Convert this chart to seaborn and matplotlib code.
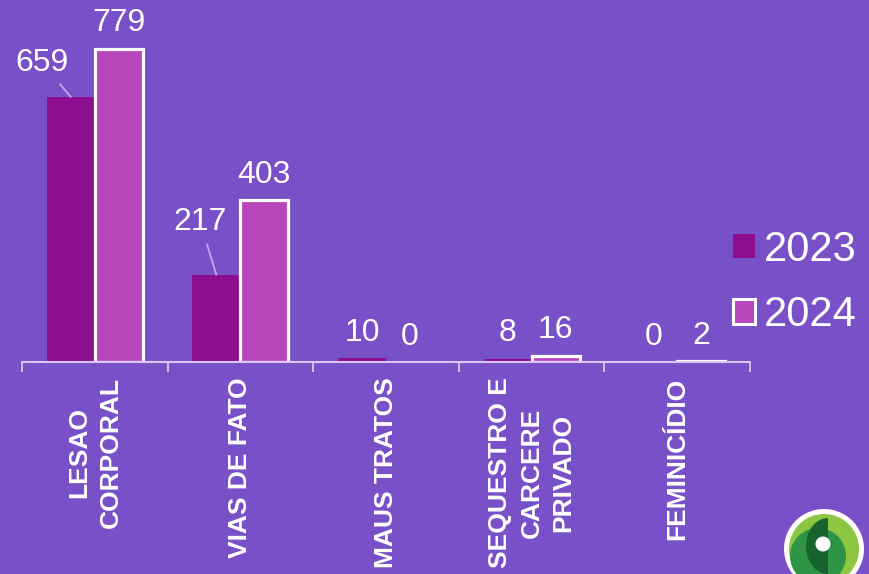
import matplotlib
matplotlib.use("Agg")
import matplotlib.pyplot as plt
from matplotlib.patches import Patch, Circle, Ellipse, Rectangle
from matplotlib.ticker import FixedLocator
import seaborn as sns
import pandas as pd

# Data
categories = ["LESAO\nCORPORAL", "VIAS DE FATO", "MAUS TRATOS",
              "SEQUESTRO E\nCARCERE\nPRIVADO", "FEMINICÍDIO"]
years = ["2023", "2024"]
values_2023 = [659, 217, 10, 8, 0]
values_2024 = [779, 403, 0, 16, 2]

# Colours
BG = "#7850C8"
C23 = "#8B0F8E"
C24 = "#B845BA"
AXIS = "#D9C6F2"
LEADER = "#C9A6EC"

df = pd.DataFrame({
    "categoria": categories * 2,
    "ano": [years[0]] * len(categories) + [years[1]] * len(categories),
    "valor": values_2023 + values_2024,
})

sns.set_theme(style="white")
plt.rcParams["font.family"] = ["Liberation Sans", "DejaVu Sans"]

W, H = 869, 574
fig = plt.figure(figsize=(W / 100, H / 100), dpi=100, facecolor=BG)
ax = fig.add_axes([22 / W, (H - 362) / H, (750 - 22) / W, 362 / H])
ax.set_facecolor(BG)

sns.barplot(data=df, x="categoria", y="valor", hue="ano", order=categories,
            hue_order=years, palette=[C23, C24], width=0.66, gap=0,
            saturation=1, legend=False, ax=ax)

ax.set_xlim(-0.5, len(categories) - 0.5)
ax.set_ylim(0, 900)
ax.set_xlabel("")
ax.set_ylabel("")
ax.set_yticks([])
for s in ("left", "top", "right"):
    ax.spines[s].set_visible(False)
ax.spines["bottom"].set_color(AXIS)
ax.spines["bottom"].set_linewidth(1.5)

# 2024 bars carry a white outline (none when the value is zero)
for bar, v in zip(ax.containers[1], values_2024):
    bar.set_edgecolor("white")
    bar.set_linewidth(2.3 if v > 0 else 0)
for bar in ax.containers[0]:
    bar.set_linewidth(0)

# Category boundary ticks
ax.xaxis.set_minor_locator(FixedLocator([i - 0.5 for i in range(len(categories) + 1)]))
ax.tick_params(axis="x", which="minor", bottom=True, length=7, width=1.3,
               color=AXIS, direction="out")
ax.tick_params(axis="x", which="major", bottom=True, length=0, pad=11)
ax.set_xticks(range(len(categories)))
ax.set_xticklabels(categories, rotation=90, fontsize=19, fontweight="bold",
                   color="white", ha="center", va="top",
                   multialignment="center", linespacing=1.4)

# Value labels
leader_pos = {0: (-0.363, 744), 1: (0.7225, 348)}
for i, (cont, vals) in enumerate(zip(ax.containers, [values_2023, values_2024])):
    for j, (bar, v) in enumerate(zip(cont, vals)):
        xc = bar.get_x() + bar.get_width() / 2
        if i == 0 and j in leader_pos:
            ax.annotate(f"{v}", xy=(xc, v), xytext=leader_pos[j],
                        textcoords="data", ha="center", va="center",
                        fontsize=23, color="white",
                        arrowprops=dict(arrowstyle="-", color=LEADER, lw=1.3,
                                        shrinkA=3, shrinkB=0))
        else:
            ax.annotate(f"{v}", xy=(xc, v), xytext=(0, 12.5),
                        textcoords="offset points", ha="center",
                        va="baseline", fontsize=23, color="white")

# Legend
handles = [Patch(facecolor=C23, edgecolor=C23, linewidth=0),
           Patch(facecolor=C24, edgecolor="white", linewidth=2.2)]
fig.legend(handles, years, loc="center left",
           bbox_to_anchor=(733 / W, 1 - 282.5 / H), frameon=False,
           fontsize=30, labelcolor="white", handlelength=0.53,
           handleheight=0.53, handletextpad=0.22, labelspacing=0.62,
           borderpad=0, borderaxespad=0)

# Emblem in the lower right corner
lx = fig.add_axes([0, 0, 1, 1], zorder=5)
lx.set_xlim(0, W)
lx.set_ylim(H, 0)
lx.axis("off")
lx.patch.set_alpha(0)
lx.add_patch(Circle((824, 549), 40, fc="white", ec="none"))
lx.add_patch(Circle((824, 549), 35, fc="#8DC641", ec="none"))
lx.add_patch(Circle((818, 556), 28, fc="#2F9446", ec="none"))
half = Ellipse((828, 546), 44, 56, fc="#16632C", ec="none")
lx.add_patch(half)
clip = Rectangle((780, 500), 48, 100, transform=lx.transData)
half.set_clip_path(clip)
lx.add_patch(Circle((823, 544), 7.5, fc="white", ec="none"))

fig.savefig("out.png", dpi=100, facecolor=BG)
